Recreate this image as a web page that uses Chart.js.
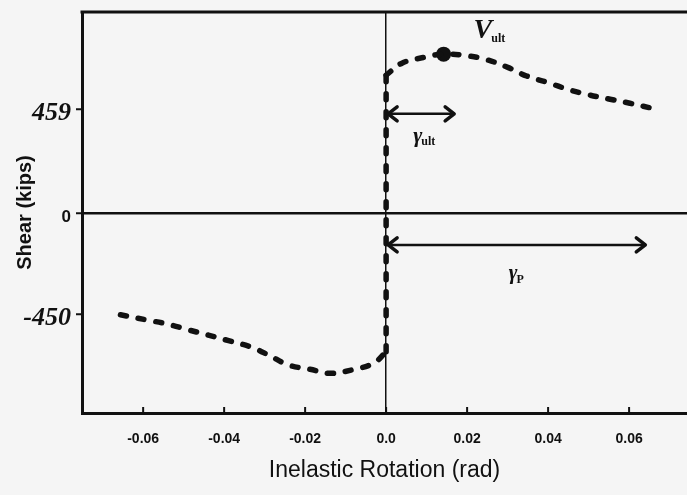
<!DOCTYPE html>
<html>
<head>
<meta charset="utf-8">
<script src="https://cdn.jsdelivr.net/npm/chart.js@4.4.1/dist/chart.umd.min.js"></script>
<style>
  html, body { margin: 0; padding: 0; background: #f5f5f5; }
  #wrap { position: relative; width: 687px; height: 495px; }
</style>
</head>
<body>
<div id="wrap"><canvas id="c" width="687" height="495"></canvas></div>
<script>
// Link shear versus inelastic rotation: backbone curve
const negRotation = [-0.0656, -0.0591, -0.0541, -0.0488, -0.0439, -0.0389, -0.0332, -0.0286, -0.0241, -0.0188, -0.0138, -0.0085, -0.0031, 0.0];
const negShear    = [-452, -475, -493, -519, -542, -567, -596, -635, -675, -694, -712, -697, -667, -616];

const riseRotation = [0.0, 0.0];
const riseShear    = [-616, 612];

const posRotation = [0.0, 0.0039, 0.0092, 0.0142, 0.0199, 0.0249, 0.0302, 0.0347, 0.0401, 0.0450, 0.0499, 0.0553, 0.0602, 0.0668];
const posShear    = [612, 665, 690, 705, 698, 680, 645, 608, 578, 548, 525, 505, 487, 460];

// ultimate shear point
const peakRotation = [0.0142];
const peakShear    = [705];

// axis ticks
const xTickValues = [-0.06, -0.04, -0.02, 0.0, 0.02, 0.04, 0.06];
const xTickLabels = ['-0.06', '-0.04', '-0.02', '0.0', '0.02', '0.04', '0.06'];
const yTickValues = [-450, 0, 459];
const yTickLabels = ['-450', '0', '459'];

// rotation spans marked with double arrows
const gammaUltSpan  = [0.0, 0.0173];
const gammaUltLevel = [440];
const gammaPSpan    = [0.0, 0.0645];
const gammaPLevel   = [-142];

const pts = (xs, ys) => xs.map((x, i) => ({ x: x, y: ys[i] }));
const INK = '#111';

const curveStyle = {
  showLine: true,
  borderColor: INK,
  borderWidth: 5.5,
  borderDash: [6, 12],
  borderCapStyle: 'round',
  pointRadius: 0,
  fill: false
};

function arrow(ctx, x1, x2, y) {
  ctx.save();
  ctx.strokeStyle = INK;
  ctx.lineWidth = 2.5;
  ctx.beginPath();
  ctx.moveTo(x1 + 2, y);
  ctx.lineTo(x2 - 2, y);
  ctx.stroke();
  ctx.lineWidth = 3.5;
  ctx.lineCap = 'round';
  ctx.lineJoin = 'round';
  const h = 11, w = 7;
  ctx.beginPath();
  ctx.moveTo(x1 + h, y - w);
  ctx.lineTo(x1 + 2, y);
  ctx.lineTo(x1 + h, y + w);
  ctx.moveTo(x2 - h, y - w);
  ctx.lineTo(x2 - 2, y);
  ctx.lineTo(x2 - h, y + w);
  ctx.stroke();
  ctx.restore();
}

function symbol(ctx, main, sub, x, y, mainSize, subSize, subDx, subDy) {
  ctx.save();
  ctx.fillStyle = INK;
  ctx.textBaseline = 'alphabetic';
  ctx.textAlign = 'left';
  ctx.font = 'italic bold ' + mainSize + 'px "Liberation Serif", "DejaVu Serif", serif';
  ctx.fillText(main, x, y);
  const w = ctx.measureText(main).width;
  ctx.font = 'bold ' + subSize + 'px "Liberation Serif", "DejaVu Serif", serif';
  ctx.fillText(sub, x + w + subDx, y + subDy);
  ctx.restore();
}

const decorations = {
  id: 'decorations',
  afterDraw(chart) {
    const { ctx, chartArea, scales } = chart;
    const xs = scales.x, ys = scales.y;
    ctx.save();
    // top frame line
    ctx.strokeStyle = INK;
    ctx.lineWidth = 3;
    ctx.beginPath();
    ctx.moveTo(chartArea.left - 1.5, chartArea.top);
    ctx.lineTo(chartArea.right, chartArea.top);
    ctx.stroke();
    // inward tick marks on the rotation axis
    ctx.lineWidth = 2;
    xTickValues.forEach(v => {
      const px = xs.getPixelForValue(v);
      ctx.beginPath();
      ctx.moveTo(px, chartArea.bottom);
      ctx.lineTo(px, chartArea.bottom - 6);
      ctx.stroke();
    });
    ctx.restore();

    // rotation spans
    const yU = ys.getPixelForValue(gammaUltLevel[0]);
    arrow(ctx, xs.getPixelForValue(gammaUltSpan[0]), xs.getPixelForValue(gammaUltSpan[1]), yU);
    const yP = ys.getPixelForValue(gammaPLevel[0]);
    arrow(ctx, xs.getPixelForValue(gammaPSpan[0]), xs.getPixelForValue(gammaPSpan[1]), yP);

    // symbols
    const pkx = xs.getPixelForValue(peakRotation[0]);
    const pky = ys.getPixelForValue(peakShear[0]);
    symbol(ctx, 'V', 'ult', pkx + 30, pky - 16, 28, 12, -1, 4);
    const gux = (xs.getPixelForValue(gammaUltSpan[0]) + xs.getPixelForValue(gammaUltSpan[1])) / 2;
    symbol(ctx, '\u03b3', 'ult', gux - 8, yU + 28, 22, 12, -1, 3);
    const gpx = (xs.getPixelForValue(gammaPSpan[0]) + xs.getPixelForValue(gammaPSpan[1])) / 2;
    symbol(ctx, '\u03b3', 'P', gpx - 8, yP + 34, 21, 12, -1, 4);
  }
};

new Chart(document.getElementById('c'), {
  type: 'scatter',
  data: {
    datasets: [
      Object.assign({ data: pts(negRotation, negShear), tension: 0.4 }, curveStyle),
      Object.assign({ data: pts(riseRotation, riseShear), tension: 0 }, curveStyle),
      Object.assign({ data: pts(posRotation, posShear), tension: 0.4 }, curveStyle),
      {
        data: pts(peakRotation, peakShear),
        showLine: false,
        pointRadius: 7.5,
        pointBackgroundColor: INK,
        pointBorderColor: INK,
        pointBorderWidth: 0
      }
    ]
  },
  options: {
    responsive: false,
    animation: false,
    devicePixelRatio: 1,
    layout: { autoPadding: false, padding: { top: 12, right: 0, bottom: 0, left: 0 } },
    plugins: { legend: { display: false }, tooltip: { enabled: false } },
    scales: {
      x: {
        type: 'linear',
        min: -0.0751,
        max: 0.0743,
        afterBuildTicks: s => { s.ticks = xTickValues.map(v => ({ value: v })); },
        afterFit: s => { s.height = 82; s.paddingLeft = 0; s.paddingRight = 0; },
        ticks: {
          color: INK,
          padding: 18,
          maxRotation: 0,
          autoSkip: false,
          font: { family: '"Liberation Sans", Arial, sans-serif', size: 14, weight: 'bold' },
          callback: (v, i) => xTickLabels[i]
        },
        grid: {
          drawTicks: false,
          color: c => (c.tick && c.tick.value === 0) ? INK : 'rgba(0,0,0,0)',
          lineWidth: 1.5
        },
        border: { color: INK, width: 3 },
        title: {
          display: true,
          text: 'Inelastic Rotation (rad)',
          color: INK,
          font: { family: '"Liberation Sans", Arial, sans-serif', size: 23 },
          padding: { top: 0, bottom: 11 }
        }
      },
      y: {
        type: 'linear',
        min: -888,
        max: 892,
        afterBuildTicks: s => { s.ticks = yTickValues.map(v => ({ value: v })); },
        afterFit: s => { s.width = 82; s.paddingTop = 0; s.paddingBottom = 0; },
        ticks: {
          color: INK,
          padding: 5,
          labelOffset: 4,
          autoSkip: false,
          font: c => (c.tick && c.tick.value === 0)
            ? { family: '"Liberation Sans", Arial, sans-serif', size: 17, weight: 'bold' }
            : { family: '"Liberation Serif", "Times New Roman", serif', size: 26, weight: 'bold', style: 'italic' },
          callback: (v, i) => yTickLabels[i]
        },
        grid: {
          drawTicks: true,
          tickLength: 6,
          tickColor: INK,
          tickWidth: 2,
          color: c => (c.tick && c.tick.value === 0) ? INK : 'rgba(0,0,0,0)',
          lineWidth: 2.5
        },
        border: { color: INK, width: 3 },
        title: {
          display: true,
          text: 'Shear (kips)',
          color: INK,
          font: { family: '"Liberation Sans", Arial, sans-serif', size: 20, weight: '600' },
          padding: { top: 13, bottom: 0 }
        }
      }
    }
  },
  plugins: [decorations]
});
</script>
</body>
</html>
